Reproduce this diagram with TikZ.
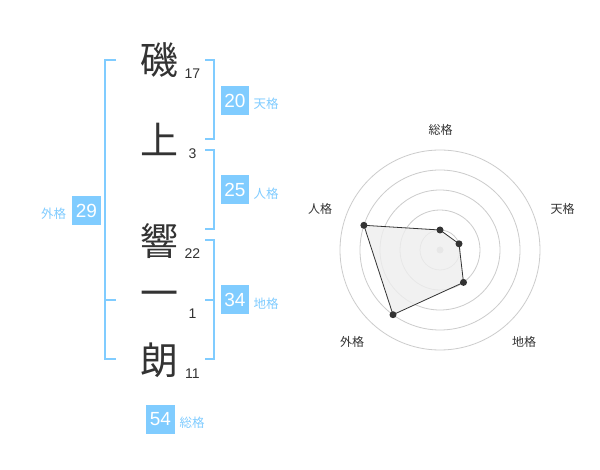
\documentclass[tikz,border=0pt]{standalone}
\usepackage{fontspec}
\setmainfont{Liberation Sans}
\newfontfamily\cjk{Noto Sans CJK JP}
\definecolor{blu}{HTML}{80CCFF}
\definecolor{ink}{HTML}{333333}
\definecolor{ring}{HTML}{CCCCCC}
\definecolor{area}{HTML}{EEEEEE}
\begin{document}
\begin{tikzpicture}[x=1pt,y=-1pt,
  kanji/.style={font=\cjk\fontsize{38}{38}\selectfont, text=ink, inner sep=0pt},
  strk/.style={font=\fontsize{14}{14}\selectfont, text=ink, inner sep=0pt},
  gbox/.style={fill=blu, text=white, font=\fontsize{19}{19}\selectfont, minimum width=28.5pt, minimum height=29pt, inner sep=0pt},
  glab/.style={font=\cjk\fontsize{12.5}{12.5}\selectfont, text=blu, inner sep=0pt},
  brk/.style={draw=blu, line width=2pt},
  rlab/.style={font=\cjk\fontsize{12}{12}\selectfont, text=ink, inner sep=0pt},
  rdot/.style={circle, fill=ink, inner sep=0pt, minimum size=7pt},
  ringline/.style={draw=ring, line width=0.8pt}]
\useasboundingbox (0,0) rectangle (600,470);
\fill[white] (0,0) rectangle (600,470);

% brackets
\draw[brk] (116,60) -- (105,60) -- (105,359) -- (116,359);
\draw[brk] (105,300) -- (116,300);
\draw[brk] (205,60) -- (214,60) -- (214,139) -- (205,139);
\draw[brk] (205,150) -- (214,150) -- (214,229) -- (205,229);
\draw[brk] (205,240) -- (214,240) -- (214,359) -- (205,359);
\draw[brk] (205,300) -- (214,300);

% characters
\node[kanji] (k1) at (159,60) {磯};
\node[kanji] (k2) at (159,139) {上};
\node[kanji] (k3) at (159,241) {響};
\node[kanji] (k4) at (159,299) {一};
\node[kanji] (k5) at (159,360) {朗};
\node[strk] (s1) at (192.5,73.5) {17};
\node[strk] (s2) at (192.5,153.5) {3};
\node[strk] (s3) at (192.5,253.5) {22};
\node[strk] (s4) at (192.5,313.5) {1};
\node[strk] (s5) at (192.5,373.5) {11};

% grade boxes
\node[gbox] (b1) at (235,100.5) {20};
\node[glab] (l1) at (266,104) {天格};
\node[gbox] (b2) at (235,190) {25};
\node[glab] (l2) at (266,194) {人格};
\node[gbox] (b3) at (86.5,210.5) {29};
\node[glab] (l3) at (53.5,214) {外格};
\node[gbox] (b4) at (235,300) {34};
\node[glab] (l4) at (266,304) {地格};
\node[gbox] (b5) at (160.5,419) {54};
\node[glab] (l5) at (192,423) {総格};

% radar
\coordinate (c) at (440,250);
\foreach \r in {20,40,60,80,100} \draw[ringline] (c) circle[radius=\r pt];
\fill[ring] (c) circle[radius=3.5pt];
\coordinate (p1) at (440,230);
\coordinate (p2) at (459,243.8);
\coordinate (p3) at (463.5,282.4);
\coordinate (p4) at (393,314.7);
\coordinate (p5) at (363.9,225.3);
\draw[fill=area, fill opacity=0.8, draw=ink, line width=0.8pt] (p1) -- (p2) -- (p3) -- (p4) -- (p5) -- cycle;
\foreach \p in {p1,p2,p3,p4,p5} \node[rdot] (d\p) at (\p) {};
\node[rlab] (r1) at (440.5,130) {総格};
\node[rlab] (r2) at (562.5,208.5) {天格};
\node[rlab] (r3) at (524,342) {地格};
\node[rlab] (r4) at (352,342) {外格};
\node[rlab] (r5) at (320,208.5) {人格};
\end{tikzpicture}
\end{document}
